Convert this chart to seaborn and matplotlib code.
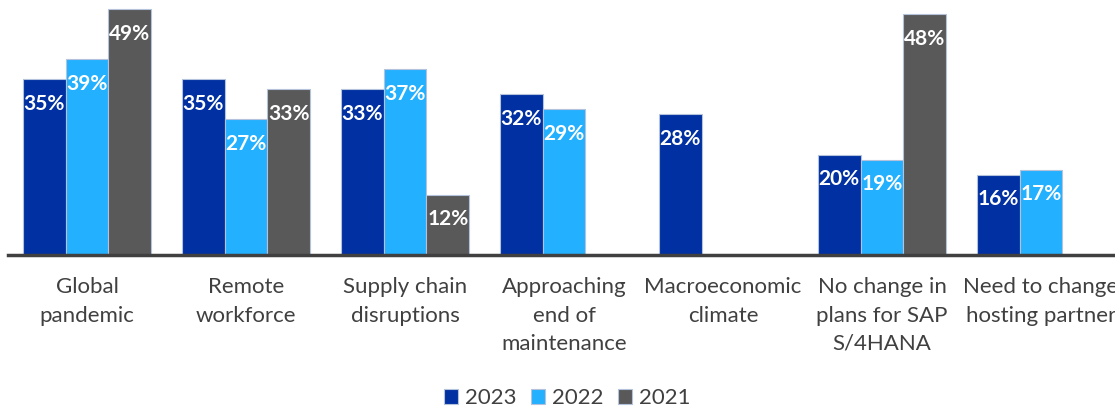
import pandas as pd
import seaborn as sns
import matplotlib.pyplot as plt

categories = ["Global\npandemic", "Remote\nworkforce", "Supply chain\ndisruptions",
              "Approaching\nend of\nmaintenance", "Macroeconomic\nclimate",
              "No change in\nplans for SAP\nS/4HANA", "Need to change\nhosting partner"]
years = ["2023", "2022", "2021"]
v2023 = [35, 35, 33, 32, 28, 20, 16]
v2022 = [39, 27, 37, 29, None, 19, 17]
v2021 = [49, 33, 12, None, None, 48, None]
colors = ["#0030A1", "#22B0FF", "#595959"]

rows = []
for year, vals in zip(years, [v2023, v2022, v2021]):
    for cat, v in zip(categories, vals):
        if v is not None:
            rows.append({"category": cat, "year": year, "value": v})
df = pd.DataFrame(rows)

sns.set_style("white")
plt.rcParams['font.family'] = ['Lato', 'DejaVu Sans']

fig = plt.figure(figsize=(11.15, 4.09), dpi=100)
ax = fig.add_axes([7.5 / 1115, (409 - 255) / 409, 1113 / 1115, 255 / 409])

sns.barplot(data=df, x="category", y="value", hue="year", order=categories,
            hue_order=years, palette=colors, saturation=1, width=0.81,
            edgecolor="#B4C2DC", linewidth=0.8, ax=ax, legend=True)

for cont in ax.containers:
    ax.bar_label(cont, fmt="{:.0f}%", padding=-25, color="white",
                 fontsize=15, fontweight="bold")

ax.set_xlim(-0.5, 6.5)
ax.set_ylim(0, 50.8)
ax.set_xlabel("")
ax.set_ylabel("")
ax.set_yticks([])
for s in ["top", "right", "left"]:
    ax.spines[s].set_visible(False)
ax.spines["bottom"].set_color("#404040")
ax.spines["bottom"].set_linewidth(2.5)
ax.tick_params(axis="x", length=0, pad=16, labelsize=16, labelcolor="#404040")
for t in ax.get_xticklabels():
    t.set_linespacing(1.52)
    t.set_verticalalignment("top")

handles, labels = ax.get_legend_handles_labels()
ax.legend(handles, labels, loc="center", bbox_to_anchor=(567 / 1115, 1 - 398 / 409),
          bbox_transform=fig.transFigure, ncol=3, frameon=False, fontsize=16,
          handlelength=0.65, handleheight=0.65, handletextpad=0.3, columnspacing=0.65,
          labelcolor="#404040")

fig.savefig("out.png", dpi=100)
